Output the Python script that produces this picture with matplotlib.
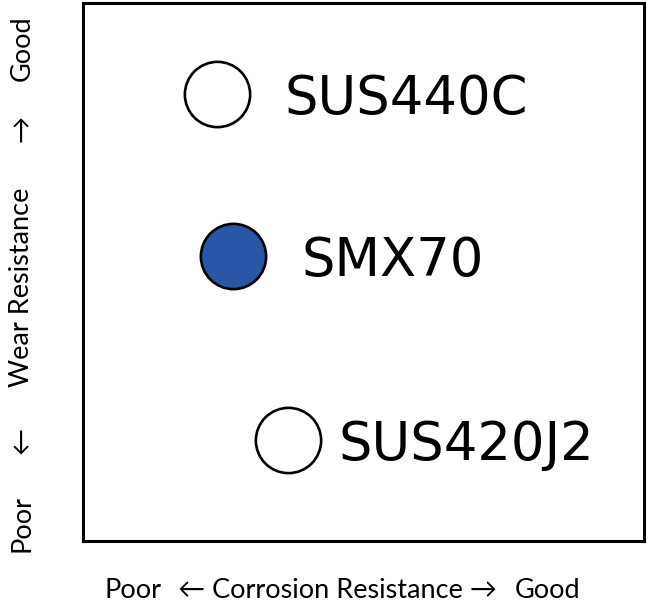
import matplotlib
matplotlib.use("Agg")
from matplotlib import pyplot as plt

# material positions (corrosion resistance, wear resistance), 0-10 scale
materials = ["SUS440C", "SMX70", "SUS420J2"]
corrosion = [2.39, 2.67, 3.65]
wear = [8.31, 5.30, 1.88]
fills = ["white", "#2a56a8", "white"]
label_x = [3.60, 3.90, 4.56]
label_y = [8.22, 5.21, 1.79]

fig = plt.figure(figsize=(6.51, 6.12), dpi=100)
ax = fig.add_axes([83 / 651, 71 / 612, 561 / 651, 538 / 612])
ax.set_xlim(0, 10)
ax.set_ylim(0, 10)
ax.set_xticks([])
ax.set_yticks([])
for s in ax.spines.values():
    s.set_linewidth(2.2)

for name, x, y, c, lx, ly in zip(materials, corrosion, wear, fills, label_x, label_y):
    ax.plot(x, y, "o", ms=47, mfc=c, mec="black", mew=1.9)
    ax.text(lx, ly, name, fontsize=38, va="center", ha="left",
            family="DejaVu Sans")

lab = dict(fontsize=19.5, family=["Lato", "DejaVu Sans"], va="center")
# bottom label
fig.text(133 / 651, 1 - 591 / 612, "Poor", ha="center", **lab)
fig.text(337 / 651, 1 - 591 / 612, "\u2190 Corrosion Resistance \u2192", ha="center", **lab)
fig.text(548 / 651, 1 - 591 / 612, "Good", ha="center", **lab)
# left label
fig.text(22 / 651, 1 - 48 / 612, "Good", rotation=90, ha="center", **lab)
fig.text(22 / 651, 1 - 128 / 612, "\u2192", rotation=90, ha="center", **lab)
fig.text(22 / 651, 1 - 287 / 612, "Wear Resistance", rotation=90, ha="center", **lab)
fig.text(22 / 651, 1 - 440 / 612, "\u2190", rotation=90, ha="center", **lab)
fig.text(22 / 651, 1 - 523 / 612, "Poor", rotation=90, ha="center", **lab)

fig.savefig("out.png", dpi=100)
